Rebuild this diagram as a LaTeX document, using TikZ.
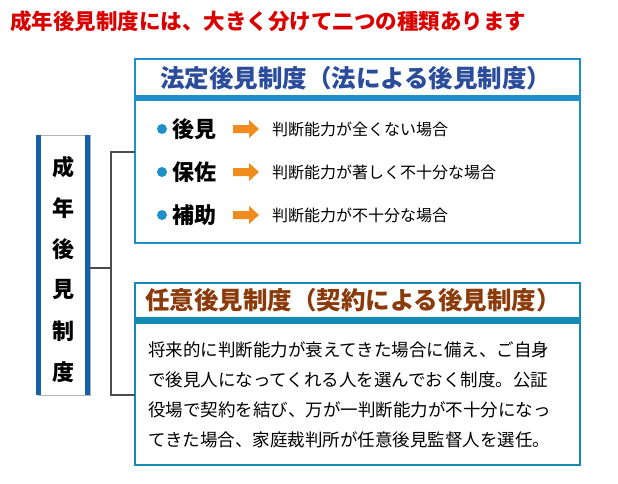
\documentclass[tikz,border=0pt]{standalone}
\usepackage{fontspec}
\setmainfont{Noto Sans CJK JP}
\usetikzlibrary{positioning}
\definecolor{hdblue}{HTML}{1E8FC8}
\definecolor{sideblue}{HTML}{1560A8}
\definecolor{ttlblue}{HTML}{2A4C9A}
\definecolor{ttlbrown}{HTML}{8B3A0A}
\definecolor{arrorange}{HTML}{F08C1E}
\tikzstyle{every node}+=[inner sep=0pt]
\tikzstyle{word} = [anchor=west, font=\bfseries\fontsize{22}{24}\selectfont]
\tikzstyle{desc} = [anchor=west, font=\fontsize{16}{18}\selectfont]
\tikzstyle{dot} = [circle, fill=hdblue, minimum size=10pt]
\tikzstyle{goes} = [fill=arrorange]
\tikzstyle{line} = [draw, line width=2.5pt, black!70]
\tikzstyle{body} = [anchor=west, font=\fontsize{17.5}{19}\selectfont]
\begin{document}
\begin{tikzpicture}[x=1pt, y=-1pt]
            \useasboundingbox (0,0) rectangle (618,483);
            % Title
            \node [anchor=west, red!85!black, font=\bfseries\fontsize{21.5}{23}\selectfont] (title) at (10,21) {成年後見制度には、大きく分けて二つの種類あります};
            % Side box
            \draw [black!30] (38,135) rectangle (90,395);
            \fill [sideblue] (36,135) rectangle (41,395);
            \fill [sideblue] (85,135) rectangle (90,395);
            \foreach \c [count=\i] in {成,年,後,見,制,度}
              \node [font=\bfseries\fontsize{22}{24}\selectfont] (s\i) at (63,{126+\i*41}) {\c};
            \coordinate (side) at (90,268);
            % Statutory box
            \draw [hdblue, line width=1.2pt] (135,59) rectangle (580,243);
            \fill [hdblue] (135,95) rectangle (580,101);
            \node [anchor=west, ttlblue, font=\bfseries\fontsize{24.5}{26}\selectfont] (h1) at (160,78) {法定後見制度（法による後見制度）};
            \foreach \w/\t [count=\i] in {後見/判断能力が全くない場合, 保佐/判断能力が著しく不十分な場合, 補助/判断能力が不十分な場合} {
              \node [dot] (d\i) at (162,{86+\i*43}) {};
              \node [word, right=5pt of d\i] (w\i) {\w};
              \coordinate (a\i) at (233,{86+\i*43});
              \path [goes] (a\i) ++(0,-4) -- ++(16,0) -- ++(0,-5) -- ++(10,9) -- ++(-10,9) -- ++(0,-5) -- ++(-16,0) -- cycle;
              \node [desc] (t\i) at (272,{86+\i*43}) {\t};
            }
            \coordinate (top) at (135,152);
            % Voluntary box
            \draw [hdblue!70!teal, line width=1.2pt] (135,283) rectangle (580,465);
            \fill [hdblue!70!teal] (135,317) rectangle (580,324);
            \node [anchor=west, ttlbrown, font=\bfseries\fontsize{24.5}{26}\selectfont] (h2) at (145,300) {任意後見制度（契約による後見制度）};
            \node [body] (b1) at (148,350) {将来的に判断能力が衰えてきた場合に備え、ご自身};
            \node [body] (b2) at (148,380) {で後見人になってくれる人を選んでおく制度。公証};
            \node [body] (b3) at (148,410) {役場で契約を結び、万が一判断能力が不十分になっ};
            \node [body] (b4) at (148,440) {てきた場合、家庭裁判所が任意後見監督人を選任。};
            \coordinate (bottom) at (135,395);
            % Connectors
            \path [line] (side) -- (111,268);
            \path [line] (top) -| (111,395) -- (bottom);
          \end{tikzpicture}
\end{document}
